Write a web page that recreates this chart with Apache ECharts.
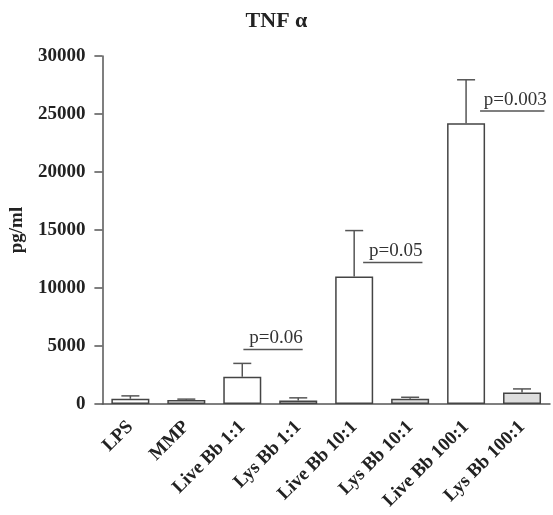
<!DOCTYPE html>
<html>
<head>
<meta charset="utf-8">
<script src="https://cdn.jsdelivr.net/npm/echarts@6/dist/echarts.min.js"></script>
<style>html,body{margin:0;padding:0;background:#fff}#c{width:553px;height:515px}</style>
</head>
<body>
<div id="c"></div>
<script>
var categories = ['LPS', 'MMP', 'Live Bb 1:1', 'Lys Bb 1:1', 'Live Bb 10:1', 'Lys Bb 10:1', 'Live Bb 100:1', 'Lys Bb 100:1'];
var means = [450, 350, 2350, 300, 11000, 450, 24200, 1000];
var errors = [250, 70, 1150, 230, 3950, 130, 3750, 300];
var yTicks = [0, 5000, 10000, 15000, 20000, 25000, 30000];
// significance annotations: [x start, x end (category units), y value, label]
var sigStart = [2.02, 4.16, 6.25];
var sigEnd = [3.08, 5.22, 7.40];
var sigY = [4700, 12200, 25250];
var sigLabels = ['p=0.06', 'p=0.05', 'p=0.003'];

var serif = '"Liberation Serif", "Times New Roman", serif';
var lineCol = '#555';

var chart = echarts.init(document.getElementById('c'));
chart.setOption({
  animation: false,
  title: {
    text: 'TNF α', left: 'center', top: 5,
    textStyle: {fontFamily: serif, fontSize: 22, fontWeight: 'bold', color: '#222'}
  },
  grid: {left: 98, right: 3, top: 56, bottom: 111, containLabel: false},
  xAxis: [{
    type: 'category', data: categories,
    axisLine: {lineStyle: {color: lineCol, width: 1.5}},
    axisTick: {alignWithLabel: true, length: 8, lineStyle: {color: lineCol, width: 1.5}},
    axisLabel: {rotate: 45, margin: 20, interval: 0, fontFamily: serif, fontSize: 19, fontWeight: 'bold', color: '#222'}
  }, {
    type: 'value', min: -0.5, max: 7.5, show: false
  }],
  yAxis: {
    type: 'value', min: yTicks[0], max: yTicks[yTicks.length - 1], interval: 5000,
    name: 'pg/ml', nameLocation: 'middle', nameGap: 63, nameRotate: 90,
    nameTextStyle: {fontFamily: serif, fontSize: 19, fontWeight: 'bold', color: '#222'},
    splitLine: {show: false},
    axisLine: {show: true, onZero: false, lineStyle: {color: lineCol, width: 1.5}},
    axisTick: {show: true, length: 8, lineStyle: {color: lineCol, width: 1.5}},
    axisLabel: {margin: 17, fontFamily: serif, fontSize: 19, fontWeight: 'bold', color: '#222',
      formatter: function (v) { return String(v); }}
  },
  series: [{
    type: 'bar', barWidth: 38, z: 2,
    data: means.map(function (v, i) {
      return {value: v, itemStyle: {color: categories[i].indexOf('Lys') === 0 ? '#dedede' : '#fff'}};
    }),
    itemStyle: {borderColor: '#444', borderWidth: 1.5}
  }, {
    type: 'custom', z: 1,
    data: means.map(function (v, i) { return [i, v, v + errors[i]]; }),
    renderItem: function (params, api) {
      var x = api.value(0);
      var p1 = api.coord([x, api.value(1)]);
      var p2 = api.coord([x, api.value(2)]);
      var st = {stroke: lineCol, lineWidth: 1.5};
      return {type: 'group', children: [
        {type: 'line', shape: {x1: p1[0], y1: p1[1], x2: p2[0], y2: p2[1]}, style: st},
        {type: 'line', shape: {x1: p2[0] - 9, y1: p2[1], x2: p2[0] + 9, y2: p2[1]}, style: st}
      ]};
    }
  }, {
    type: 'custom', xAxisIndex: 1, z: 3,
    data: sigLabels.map(function (t, i) { return [sigStart[i], sigEnd[i], sigY[i], i]; }),
    renderItem: function (params, api) {
      var y = api.value(2);
      var a = api.coord([api.value(0), y]);
      var b = api.coord([api.value(1), y]);
      var idx = api.value(3);
      return {type: 'group', children: [
        {type: 'line', shape: {x1: a[0], y1: a[1], x2: b[0], y2: b[1]}, style: {stroke: lineCol, lineWidth: 1.5}},
        {type: 'text', style: {x: (a[0] + b[0]) / 2 + 3, y: a[1] - 2, text: sigLabels[idx], textAlign: 'center', textVerticalAlign: 'bottom',
          fontFamily: serif, fontSize: 19, fill: '#333'}}
      ]};
    }
  }]
});
</script>
</body>
</html>
